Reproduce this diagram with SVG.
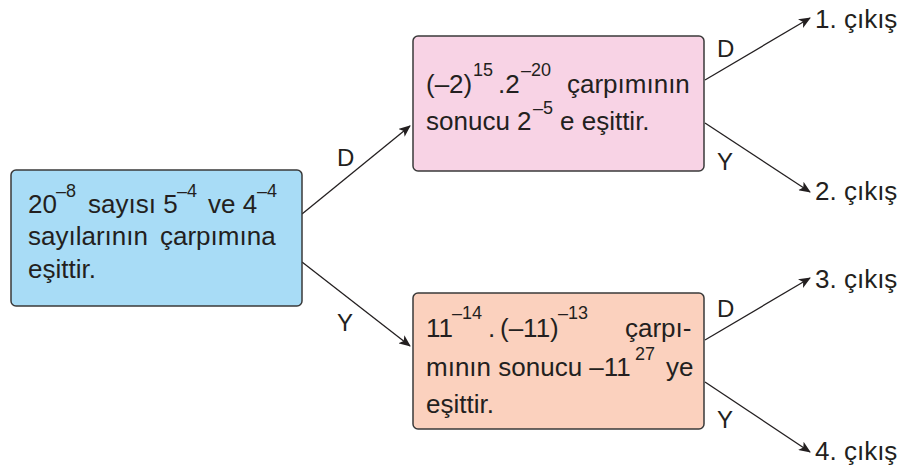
<svg xmlns="http://www.w3.org/2000/svg" width="904" height="471" viewBox="0 0 904 471">
  <defs>
    <marker id="arrow" viewBox="0 0 12 10" refX="11" refY="5" markerWidth="12" markerHeight="10" markerUnits="userSpaceOnUse" orient="auto">
      <path d="M0,0 L12,5 L0,10 L3,5 Z" fill="#231f20"/>
    </marker>
  </defs>
  <style>
    text { font-family: "Liberation Sans", Arial, sans-serif; fill: #231f20; }
    .t { font-size: 26px; }
    .sup { font-size: 18px; }
    .lbl { font-size: 24px; }
    .box { stroke: #3a3a3a; stroke-width: 1.5; }
    .edge { stroke: #231f20; stroke-width: 1.3; fill: none; marker-end: url(#arrow); }
  </style>
  <rect width="904" height="471" fill="#ffffff"/>

  <g id="connectors">
    <line class="edge" x1="302" y1="214" x2="410" y2="126"/>
    <line class="edge" x1="302" y1="262" x2="410" y2="346"/>
    <line class="edge" x1="705" y1="80" x2="810" y2="18"/>
    <line class="edge" x1="705" y1="123" x2="810" y2="192"/>
    <line class="edge" x1="705" y1="340" x2="810" y2="278"/>
    <line class="edge" x1="705" y1="382" x2="810" y2="452"/>
    <text class="lbl" x="337" y="166">D</text>
    <text class="lbl" x="337" y="331">Y</text>
    <text class="lbl" x="717" y="57">D</text>
    <text class="lbl" x="717" y="170">Y</text>
    <text class="lbl" x="717" y="317">D</text>
    <text class="lbl" x="717" y="428">Y</text>
  </g>

  <g id="start">
    <rect class="box" x="11" y="170" width="291" height="136" rx="5" fill="#a8dcf6"/>
    <text class="t" x="28" y="213">20<tspan class="sup" x="56" y="197">–8</tspan><tspan x="88" y="213">sayısı 5</tspan><tspan class="sup" x="177" y="197">–4</tspan><tspan x="208" y="213">ve 4</tspan><tspan class="sup" x="257" y="197">–4</tspan></text>
    <text class="t" x="28" y="245">sayılarının<tspan x="160">çarpımına</tspan></text>
    <text class="t" x="28" y="278">eşittir.</text>
  </g>

  <g id="question-d">
    <rect class="box" x="413" y="36" width="291" height="135" rx="5" fill="#f8d3e5"/>
    <text class="t" x="426" y="93">(–2)<tspan class="sup" x="473" y="76">15</tspan><tspan x="498" y="93">.2</tspan><tspan class="sup" x="521" y="76">–20</tspan><tspan x="567" y="93">çarpımının</tspan></text>
    <text class="t" x="426" y="130">sonucu 2<tspan class="sup" x="533" y="114">–5</tspan><tspan x="560" y="130">e eşittir.</tspan></text>
  </g>

  <g id="question-y">
    <rect class="box" x="413" y="293" width="291" height="136" rx="5" fill="#fbd1be"/>
    <text class="t" x="426" y="337">11<tspan class="sup" x="452" y="319">–14</tspan><tspan x="488" y="337">.</tspan><tspan x="500" y="337">(–11)</tspan><tspan class="sup" x="558" y="319">–13</tspan><tspan x="625" y="337">çarpı-</tspan></text>
    <text class="t" x="426" y="376">mının sonucu –11<tspan class="sup" x="635" y="360">27</tspan><tspan x="666" y="376">ye</tspan></text>
    <text class="t" x="426" y="413">eşittir.</text>
  </g>

  <g id="out1"><text class="t" x="815" y="28">1. çıkış</text></g>
  <g id="out2"><text class="t" x="815" y="200">2. çıkış</text></g>
  <g id="out3"><text class="t" x="815" y="288">3. çıkış</text></g>
  <g id="out4"><text class="t" x="815" y="460">4. çıkış</text></g>
</svg>
